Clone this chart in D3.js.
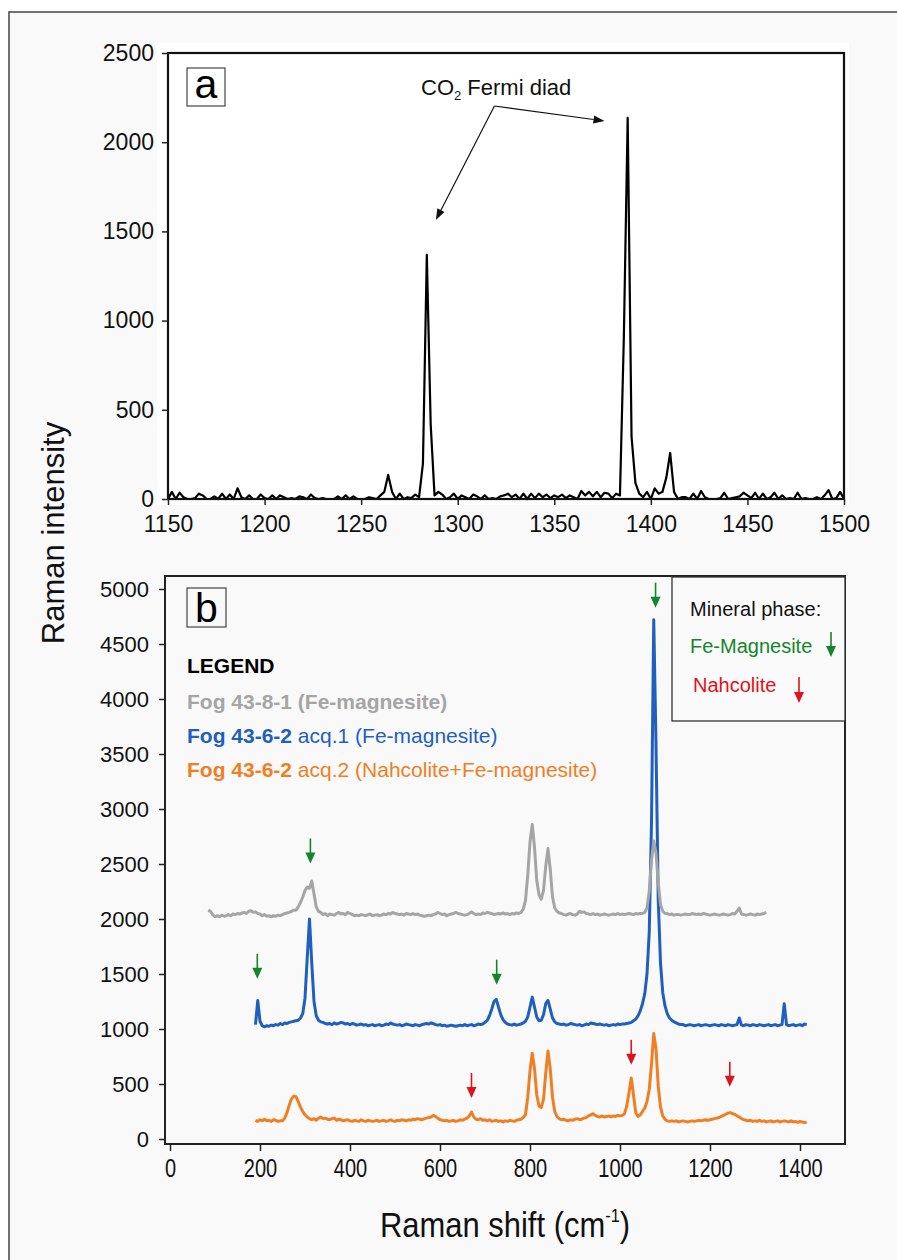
<!DOCTYPE html>
<html><head><meta charset="utf-8">
<script src="https://cdn.jsdelivr.net/npm/d3@7"></script>
<style>
body{margin:0;background:#fff;}
svg{display:block;font-family:'Liberation Sans',Arial,sans-serif;}
</style>
</head><body>
<svg id="chart" width="897" height="1260"></svg>
<script>
// ---------- DATA ----------
// Panel a: CO2 Fermi diad spectrum (Raman shift 1150..1500, step 2)
const aShiftStart = 1150, aShiftStep = 2;
const aIntensity = [
  0,40,0,35,10,0,0,5,30,20,
  0,0,15,0,30,0,25,0,60,10,
  0,20,0,0,25,5,0,20,0,20,
  10,0,5,0,15,10,0,25,5,0,
  5,0,0,0,15,0,20,0,15,0,
  0,0,10,5,0,20,40,135,40,0,
  30,0,10,5,25,10,200,1368,420,20,
  40,25,0,10,30,0,20,10,0,25,
  15,0,20,0,5,0,15,20,30,10,
  25,0,30,0,30,5,30,10,25,5,
  20,10,25,5,20,10,0,45,20,40,
  15,40,10,35,30,5,30,20,900,2136,
  350,90,30,10,40,0,60,30,40,120,
  258,40,0,10,10,0,30,0,45,10,
  0,0,0,5,35,0,5,10,15,35,
  20,5,35,0,30,0,10,35,0,20,
  0,5,0,35,0,5,0,0,10,0,
  20,50,0,5,40,0
];
const aXTicks = [1150,1200,1250,1300,1350,1400,1450,1500];
const aYTicks = [0,500,1000,1500,2000,2500];
const aArrowFrom = [1319, 2203];
const aArrowTo = [[1288.7, 1564], [1376, 2119]];

// Panel b: three spectra, step 5 cm-1
const bStep = 5;
const grayStart = 85;
const grayIntensity = [
  2080,2070,2040,
  2020,2030,2020,2035,2025,2030,2040,2030,2045,2040,2050,2045,2055,2060,2050,2070,2075,2060,2065,2050,
  2045,2030,2040,2025,2030,2020,2030,2025,2035,2030,2040,2050,2055,2060,2070,2080,2080,2110,2150,2200,
  2260,2290,2280,2345,2230,2110,2070,2060,2040,2050,2030,2045,2040,2035,2050,2060,2045,2050,2040,2060,
  2050,2040,2030,2035,2030,2040,2035,2030,2040,2045,2030,2035,2040,2030,2035,2045,2040,2050,2045,2060,
  2050,2045,2040,2045,2035,2050,2045,2040,2050,2040,2045,2035,2030,2025,2030,2035,2030,2040,2045,2060,
  2050,2040,2045,2030,2040,2045,2050,2060,2050,2045,2040,2035,2040,2050,2065,2050,2040,2045,2040,2055,
  2050,2060,2055,2050,2040,2045,2050,2045,2055,2045,2050,2040,2050,2045,2055,2050,2060,2090,2170,2400,
  2700,2860,2650,2350,2220,2180,2260,2480,2640,2450,2200,2100,2070,2055,2050,2040,2035,2045,2050,2040,
  2035,2045,2070,2060,2065,2050,2045,2040,2050,2040,2045,2035,2040,2045,2040,2035,2040,2045,2040,2050,
  2040,2045,2040,2045,2050,2045,2040,2050,2045,2050,2050,2060,2100,2250,2530,2710,2600,2330,2130,2070,
  2050,2050,2040,2045,2035,2040,2040,2035,2040,2045,2040,2040,2050,2045,2040,2045,2040,2050,2045,2040,
  2035,2040,2045,2040,2035,2040,2045,2040,2035,2040,2050,2045,2070,2100,2045,2040,2035,2040,2045,2040,
  2035,2045,2040,2045,2050,2060
];
const blueStart = 190;
const blueIntensity = [
  1040,1260,
  1070,1030,1020,1030,1025,1035,1030,1040,1035,1050,1040,1055,1050,1060,1065,1070,1075,1080,1100,1140,
  1280,1650,2000,1600,1250,1120,1080,1065,1060,1050,1045,1050,1040,1055,1045,1050,1060,1055,1045,1050,
  1040,1050,1045,1035,1040,1045,1035,1040,1030,1035,1040,1030,1035,1040,1030,1035,1045,1040,1055,1045,
  1040,1035,1040,1030,1035,1045,1040,1035,1030,1040,1035,1030,1040,1045,1050,1045,1055,1050,1040,1035,
  1040,1030,1035,1025,1030,1035,1030,1025,1030,1035,1030,1040,1030,1035,1040,1030,1035,1045,1040,1045,
  1060,1080,1120,1180,1250,1270,1200,1130,1085,1060,1045,1040,1035,1045,1035,1040,1045,1055,1070,1110,
  1200,1290,1200,1110,1075,1080,1130,1230,1260,1180,1100,1065,1050,1045,1040,1045,1035,1040,1050,1045,
  1040,1035,1040,1030,1035,1045,1040,1055,1050,1045,1040,1045,1040,1035,1040,1030,1035,1040,1035,1045,
  1040,1045,1045,1050,1055,1060,1075,1090,1120,1165,1230,1320,1500,1880,2880,4720,3590,2170,1600,1330,
  1210,1140,1100,1080,1065,1055,1045,1040,1040,1030,1035,1040,1035,1030,1035,1040,1030,1035,1040,1035,
  1030,1035,1040,1035,1030,1040,1035,1030,1040,1035,1030,1035,1040,1100,1035,1030,1040,1035,1030,1040,
  1035,1030,1040,1035,1030,1035,1040,1030,1035,1040,1030,1035,1040,1230,1040,1030,1035,1040,1030,1035,
  1040,1030,1045,1040
];
const orangeStart = 190;
const orangeIntensity = [
  170,160,
  175,165,180,165,170,160,175,170,160,165,165,190,240,310,365,390,385,340,290,250,
  220,200,185,175,185,170,190,200,185,190,180,175,185,190,170,180,175,165,170,175,
  165,160,170,165,160,175,165,160,170,165,160,165,170,160,165,170,160,165,175,165,
  160,170,165,175,170,165,175,170,180,175,185,180,175,185,190,195,200,215,205,190,
  175,170,165,170,160,165,170,160,165,175,170,180,190,210,245,200,180,175,185,170,
  175,165,175,160,165,170,160,165,155,165,160,170,165,160,170,175,180,195,220,380,
  620,780,640,400,300,285,360,600,800,640,380,250,205,185,175,180,170,165,175,170,
  180,185,175,180,190,195,210,220,230,215,205,200,210,200,205,210,200,210,205,215,
  210,215,230,300,420,555,400,240,205,220,250,280,340,450,680,960,820,480,290,210,
  180,165,160,165,160,165,155,160,165,160,155,160,165,160,165,170,165,170,175,170,
  175,180,185,190,195,205,215,225,235,240,230,225,210,200,185,175,170,165,170,160,
  165,160,170,160,165,155,160,165,155,160,165,155,160,165,160,155,165,155,160,150,
  160,155,150,150
];
const bXTicks = [0,200,400,600,800,1000,1200,1400];
const bYTicks = [0,500,1000,1500,2000,2500,3000,3500,4000,4500,5000];
// arrows: [Raman shift, intensity at arrow tip]
const feMagnesiteArrows = [[1079,4830],[312,2505],[194,1457],[726,1403]];
const nahcoliteArrows = [[670,373],[1025,674],[1244,474]];

const colGray = "#a5a5a5", colBlue = "#1f5fbf", colOrange = "#f07f24";
const colGreen = "#13862a", colRed = "#e0121b";

// ---------- DRAW ----------
const svg = d3.select("#chart");
svg.append("rect").attr("x",9).attr("y",12).attr("width",900).attr("height",1300)
  .attr("fill","#f9f9f9").attr("stroke","#444").attr("stroke-width",1.5);

function styleAxis(g, size, sx){
  g.select(".domain").remove();
  g.selectAll(".tick line").attr("stroke","#222").attr("stroke-width",1.5);
  const t = g.selectAll(".tick text").attr("fill","#111").style("font-size",size+"px");
  if (sx) t.attr("transform",`scale(${sx},1)`);
}
function arrow(g, x, yTip, color, len, headL, headW, lw){
  g.append("line").attr("x1",x).attr("x2",x).attr("y1",yTip-len).attr("y2",yTip-headL+1)
    .attr("stroke",color).attr("stroke-width",lw);
  g.append("path").attr("d",`M${x-headW/2},${yTip-headL}L${x+headW/2},${yTip-headL}L${x},${yTip}Z`)
    .attr("fill",color);
}

// ---- Panel a ----
const ax = d3.scaleLinear().domain([1150,1500]).range([168,844]);
const ay = d3.scaleLinear().domain([0,2500]).range([499,53]);
svg.append("rect").attr("x",157).attr("y",43).attr("width",692).attr("height",462).attr("fill","#fff");
const gA = svg.append("g");
gA.append("path").datum(aIntensity)
  .attr("d", d3.line().x((d,i)=>ax(aShiftStart+i*aShiftStep)).y(d=>ay(d)))
  .attr("fill","none").attr("stroke","#000").attr("stroke-width",2.2).attr("stroke-linejoin","round");
gA.append("rect").attr("x",ax(1150)).attr("y",ay(2500)).attr("width",ax(1500)-ax(1150)).attr("height",ay(0)-ay(2500))
  .attr("fill","none").attr("stroke","#111").attr("stroke-width",2.2);
gA.append("g").attr("transform",`translate(${ax(1150)},0)`)
  .call(d3.axisLeft(ay).tickValues(aYTicks).tickSize(6).tickPadding(8).tickFormat(d3.format("d")))
  .call(g=>styleAxis(g,23));
gA.append("g").attr("transform",`translate(0,${ay(0)})`)
  .call(d3.axisBottom(ax).tickValues(aXTicks).tickSize(6).tickPadding(11).tickFormat(d3.format("d")))
  .call(g=>styleAxis(g,23));
gA.append("rect").attr("x",187).attr("y",68).attr("width",38).attr("height",38).attr("fill","#fff").attr("stroke","#444").attr("stroke-width",1.2);
gA.append("text").attr("x",206).attr("y",98).attr("text-anchor","middle").style("font-size","41px").text("a");
const ann = gA.append("text").attr("x",421).attr("y",95).style("font-size","22px").attr("fill","#111");
ann.append("tspan").text("CO");
ann.append("tspan").attr("dy",5).style("font-size","13px").text("2");
ann.append("tspan").attr("dy",-5).text(" Fermi diad");
aArrowTo.forEach(t=>{
  const x1=ax(aArrowFrom[0]), y1=ay(aArrowFrom[1]), x2=ax(t[0]), y2=ay(t[1]);
  const ang=Math.atan2(y2-y1,x2-x1), hl=11, hw=4;
  const ex=x2-hl*Math.cos(ang), ey=y2-hl*Math.sin(ang);
  gA.append("line").attr("x1",x1).attr("y1",y1).attr("x2",ex).attr("y2",ey).attr("stroke","#111").attr("stroke-width",1.2);
  gA.append("path").attr("d",`M${x2},${y2}L${ex-hw*Math.sin(ang)},${ey+hw*Math.cos(ang)}L${ex+hw*Math.sin(ang)},${ey-hw*Math.cos(ang)}Z`).attr("fill","#111");
});

// ---- Panel b ----
const bx = d3.scaleLinear().domain([0,1400]).range([170,800]);
const by = d3.scaleLinear().domain([0,5000]).range([1139,589]);
const gB = svg.append("g");
const lineB = start => d3.line().x((d,i)=>bx(start+i*bStep)).y(d=>by(d));
[[blueIntensity,blueStart,colBlue],[grayIntensity,grayStart,colGray],[orangeIntensity,orangeStart,colOrange]]
  .forEach(([vals,start,col])=>{
    gB.append("path").datum(vals).attr("d",lineB(start)).attr("fill","none")
      .attr("stroke",col).attr("stroke-width",3).attr("stroke-linejoin","round");
  });
gB.append("rect").attr("x",165).attr("y",576).attr("width",680).attr("height",568)
  .attr("fill","none").attr("stroke","#222").attr("stroke-width",2);
gB.append("g").attr("transform",`translate(165,0)`)
  .call(d3.axisLeft(by).tickValues(bYTicks).tickSize(6).tickPadding(10).tickFormat(d3.format("d")))
  .call(g=>styleAxis(g,22));
gB.append("g").attr("transform",`translate(0,1144)`)
  .call(d3.axisBottom(bx).tickValues(bXTicks).tickSize(7).tickPadding(8).tickFormat(d3.format("d")))
  .call(g=>styleAxis(g,25,0.8));
feMagnesiteArrows.forEach(([s,v])=>arrow(gB,bx(s),by(v),colGreen,25,11,10,1.6));
nahcoliteArrows.forEach(([s,v])=>arrow(gB,bx(s),by(v),colRed,25,11,10,1.6));
gB.append("rect").attr("x",187).attr("y",588).attr("width",39).attr("height",39).attr("fill","none").attr("stroke","#444").attr("stroke-width",1.2);
gB.append("text").attr("x",206.5).attr("y",622).attr("text-anchor","middle").style("font-size","41px").text("b");
gB.append("text").attr("x",187).attr("y",673).style("font-size","21px").style("font-weight","bold").attr("fill","#000").text("LEGEND");
gB.append("text").attr("x",187).attr("y",709).style("font-size","21px").style("font-weight","bold").attr("fill",colGray).text("Fog 43-8-1 (Fe-magnesite)");
const l2 = gB.append("text").attr("x",187).attr("y",743).style("font-size","21px").attr("fill",colBlue);
l2.append("tspan").style("font-weight","bold").text("Fog 43-6-2");
l2.append("tspan").text("\u00a0acq.1 (Fe-magnesite)");
const l3 = gB.append("text").attr("x",187).attr("y",777).style("font-size","21px").attr("fill",colOrange);
l3.append("tspan").style("font-weight","bold").text("Fog 43-6-2");
l3.append("tspan").text("\u00a0acq.2 (Nahcolite+Fe-magnesite)");
gB.append("rect").attr("x",672).attr("y",577).attr("width",173).attr("height",144).attr("fill","#fafafa").attr("stroke","#333").attr("stroke-width",1.3);
gB.append("text").attr("x",690).attr("y",616).style("font-size","20px").attr("fill","#111").text("Mineral phase:");
gB.append("text").attr("x",690).attr("y",653).style("font-size","20px").attr("fill",colGreen).text("Fe-Magnesite");
gB.append("text").attr("x",693).attr("y",692).style("font-size","20px").attr("fill",colRed).text("Nahcolite");
arrow(gB,831,657,colGreen,25,11,10,1.6);
arrow(gB,799,703,colRed,26,11,10,1.6);

// axis titles
svg.append("text").attr("transform","translate(64,533) rotate(-90)").attr("text-anchor","middle")
  .style("font-size","31px").attr("fill","#111").text("Raman intensity");
const xt = svg.append("text").attr("transform","translate(505,1237) scale(0.86,1)").attr("text-anchor","middle")
  .style("font-size","36px").attr("fill","#111");
xt.append("tspan").text("Raman shift (cm");
xt.append("tspan").attr("dy",-15).style("font-size","19px").text("-1");
xt.append("tspan").attr("dy",15).text(")");
</script>
</body></html>
